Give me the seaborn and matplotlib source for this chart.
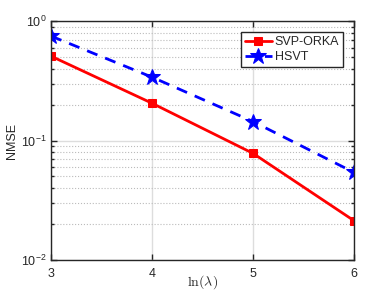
import numpy as np
import pandas as pd
import matplotlib
matplotlib.use("Agg")
import matplotlib.pyplot as plt
import seaborn as sns

# data
ln_lambda = [3, 4, 5, 6]
svp_orka = [0.508, 0.205, 0.078, 0.0213]
hsvt = [0.748, 0.339, 0.144, 0.054]

sns.set_style("ticks")
plt.rcParams['font.family'] = ['Liberation Sans', 'DejaVu Sans']
plt.rcParams['mathtext.fontset'] = 'cm'

df = pd.DataFrame({
    'x': ln_lambda * 2,
    'y': svp_orka + hsvt,
    'method': ['SVP-ORKA'] * 4 + ['HSVT'] * 4,
})

fig = plt.figure(figsize=(3.9, 2.93), dpi=100)
ax = fig.add_axes([0.131, 0.1126, 0.777, 0.8156])

sns.lineplot(data=df[df.method == 'SVP-ORKA'], x='x', y='y', ax=ax,
             color='red', lw=2, marker='s', markersize=6, markeredgecolor='red',
             label='SVP-ORKA')
sns.lineplot(data=df[df.method == 'HSVT'], x='x', y='y', ax=ax,
             color='blue', lw=2, ls=(0, (4, 3)), marker='*', markersize=12,
             markeredgecolor='blue', label='HSVT')

ax.set_yscale('log')
ax.set_ylim(1e-2, 1)
ax.set_xlim(3, 6)
ax.set_xticks(ln_lambda)
ax.set_xlabel(r'$\ln(\lambda)$', fontsize=10)
ax.xaxis.set_label_coords(0.5, -0.055)
ax.set_ylabel('NMSE', fontsize=9, labelpad=2)

ax.grid(True, which='major', axis='x', color='#dddddd', lw=1, ls='-')
ax.grid(True, which='major', axis='y', color='#dddddd', lw=1, ls='-')
ax.grid(True, which='minor', axis='y', color='#bbbbbb', lw=0.8, ls=':')
ax.set_axisbelow(True)

ax.tick_params(which='both', direction='in', top=True, right=True,
               labelsize=9, color='#262626', width=1)
ax.tick_params(which='major', length=4)
ax.tick_params(which='minor', length=2.5)
ax.tick_params(axis='x', pad=6)
for s in ax.spines.values():
    s.set_color('#262626')
    s.set_linewidth(1)
    s.set_visible(True)

leg = ax.legend(loc='upper right', fontsize=9, frameon=True, fancybox=False,
                borderpad=0.3, labelspacing=0.25, handlelength=2.2,
                handletextpad=0.2, borderaxespad=0.9)
leg.get_frame().set_edgecolor('#262626')
leg.get_frame().set_linewidth(1)
leg.get_frame().set_alpha(1)

fig.savefig('out.png', dpi=100)
